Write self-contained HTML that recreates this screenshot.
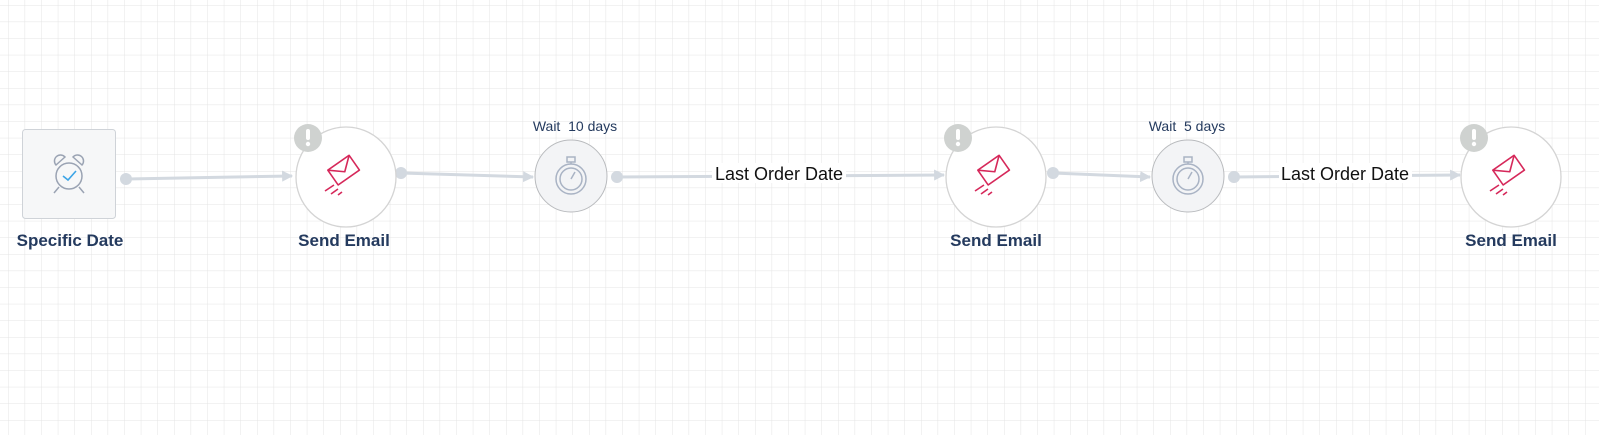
<!DOCTYPE html>
<html><head><meta charset="utf-8"><style>
html,body{margin:0;padding:0;width:1599px;height:435px;overflow:hidden;background:#fff}
svg{display:block}
text{font-family:"Liberation Sans",Arial,sans-serif}
</style></head><body>
<svg width="1599" height="435" viewBox="0 0 1599 435" xmlns="http://www.w3.org/2000/svg">
<defs>
<pattern id="g" x="8" y="5" width="16.6" height="16.6" patternUnits="userSpaceOnUse">
<path d="M0 0V16.6M0 0H16.6" stroke="#e4e4e4" stroke-width="1" fill="none"/>
</pattern>
<marker id="a" viewBox="0 0 10 10" refX="9" refY="5" markerWidth="11" markerHeight="11" markerUnits="userSpaceOnUse" orient="auto">
<path d="M0 0L10 5L0 10z" fill="#d3d9e0"/>
</marker>
<g id="mail">
<g fill="none" stroke="#d6285a" stroke-width="1.6" stroke-linejoin="round" transform="rotate(-35)">
<rect x="-11" y="-16" width="26" height="18"/>
<path d="M-11 -16 L2 -5 L15 -16"/>
</g>
<g stroke="#d6285a" stroke-width="1.6">
<path d="M-12 8 L-21 14 M-8 12 L-15 17 M-4 15 L-8 18"/>
</g>
</g>
<g id="warn">
<circle r="14" fill="#cfd2d0"/>
<rect x="-2" y="-9" width="4" height="11" rx="2" fill="#fff"/>
<circle cy="6" r="2.2" fill="#fff"/>
</g>
<g id="timer">
<circle r="36" fill="#f3f4f6" stroke="#b9bbbe" stroke-width="1"/>
<g fill="none" stroke="#a9b3c4" stroke-width="1.5">
<circle cy="3" r="15"/><circle cy="3" r="11"/>
<rect x="-4" y="-19" width="8" height="5"/>
<path d="M0 -14V-12 M0 3 L4 -4"/>
</g>
</g>
</defs>
<rect width="1599" height="435" fill="url(#g)"/>

<g stroke="#d3d9e0" stroke-width="3" fill="none">
<line x1="126" y1="179" x2="292" y2="176" marker-end="url(#a)"/>
<line x1="401" y1="173" x2="533" y2="177" marker-end="url(#a)"/>
<line x1="617" y1="177" x2="944" y2="175" marker-end="url(#a)"/>
<line x1="1053" y1="173" x2="1150" y2="177" marker-end="url(#a)"/>
<line x1="1234" y1="177" x2="1460" y2="175" marker-end="url(#a)"/>
</g>
<g fill="#d3d9e0">
<circle cx="126" cy="179" r="6"/><circle cx="401" cy="173" r="6"/>
<circle cx="617" cy="177" r="6"/><circle cx="1053" cy="173" r="6"/>
<circle cx="1234" cy="177" r="6"/>
</g>
<rect x="712" y="163" width="134" height="20" fill="#fff"/>
<text x="779" y="180" font-size="18" text-anchor="middle" fill="#111">Last Order Date</text>
<rect x="1279" y="163" width="133" height="20" fill="#fff"/>
<text x="1345" y="180" font-size="18" text-anchor="middle" fill="#111">Last Order Date</text>

<rect x="22.5" y="129.5" width="93" height="89" rx="3" fill="#f6f7f8" stroke="#cfd3d8"/>
<g fill="none" stroke="#9aa3b3" stroke-width="1.5">
<circle cx="69" cy="176" r="13"/>
<path d="M56 165 a6 6 0 0 1 9 -8 z M82 165 a6 6 0 0 0 -9 -8 z M59 187 L54 193 M79 187 L84 193"/>
</g>
<path d="M63 176 L68 180 L76 171" fill="none" stroke="#3ba4e6" stroke-width="1.6"/>
<text x="70" y="246" font-size="17" font-weight="bold" text-anchor="middle" fill="#243a5e">Specific Date</text>

<g transform="translate(346,177)"><circle r="50" fill="#fff" stroke="#d4d4d4" stroke-width="1.3"/><use href="#mail"/></g>
<use href="#warn" x="308" y="138"/>
<text x="344" y="246" font-size="17" font-weight="bold" text-anchor="middle" fill="#243a5e">Send Email</text>

<g transform="translate(996,177)"><circle r="50" fill="#fff" stroke="#d4d4d4" stroke-width="1.3"/><use href="#mail"/></g>
<use href="#warn" x="958" y="138"/>
<text x="996" y="246" font-size="17" font-weight="bold" text-anchor="middle" fill="#243a5e">Send Email</text>

<g transform="translate(1511,177)"><circle r="50" fill="#fff" stroke="#d4d4d4" stroke-width="1.3"/><use href="#mail"/></g>
<use href="#warn" x="1474" y="138"/>
<text x="1511" y="246" font-size="17" font-weight="bold" text-anchor="middle" fill="#243a5e">Send Email</text>

<use href="#timer" x="571" y="176"/>
<text x="575" y="131" font-size="14" text-anchor="middle" fill="#243a5e" xml:space="preserve">Wait  10 days</text>
<use href="#timer" x="1188" y="176"/>
<text x="1187" y="131" font-size="14" text-anchor="middle" fill="#243a5e" xml:space="preserve">Wait  5 days</text>
</svg>
</body></html>
